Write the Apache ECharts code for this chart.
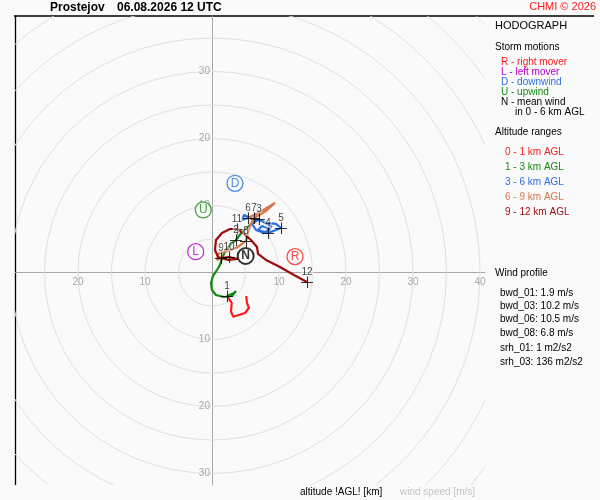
<!DOCTYPE html>
<html>
<head>
<meta charset="utf-8">
<title>Hodograph</title>
<script src="https://cdn.jsdelivr.net/npm/echarts@6/dist/echarts.min.js"></script>
<style>
  html, body { margin: 0; padding: 0; background: #fafafa; }
  #chart { width: 600px; height: 500px; }
</style>
</head>
<body>
<div id="chart"></div>
<script>
// --- data ---
const station = 'Prostejov';
const runTime = '06.08.2026 12 UTC';
const copyright = 'CHMI © 2026';

const ringSpeeds = [5, 10, 15, 20, 25, 30, 35, 40, 45, 50, 55, 60];
const xTickValues = [-20, -10, 10, 20, 30, 40];
const yTickValues = [-30, -20, -10, 10, 20, 30];

// wind vector (u, v) in m/s along the profile, per altitude range
const layer0to1 = [[5.12, -3.51], [5.22, -4.55], [5.52, -5.30], [4.93, -6.04], [3.18, -6.62],
  [2.84, -5.85], [2.94, -4.55], [2.24, -3.51]];
const layer1to3 = [[2.24, -3.51], [3.28, -3.06], [3.58, -2.76], [2.99, -3.51], [1.79, -3.66],
  [0.60, -3.36], [0.00, -2.61], [-0.15, -1.57], [0.15, -0.52], [0.75, 0.37], [1.19, 1.12],
  [1.49, 2.16], [2.09, 3.36], [2.84, 4.25], [3.58, 4.85], [4.48, 6.04], [5.52, 6.94],
  [6.27, 7.54], [7.01, 7.99]];
const layer3to6 = [[7.01, 7.99], [5.97, 7.24], [6.57, 6.34], [7.76, 5.90], [8.66, 6.49],
  [7.46, 6.94], [6.87, 6.34], [8.36, 5.90], [9.55, 6.34], [10.30, 6.64], [9.55, 7.24],
  [8.06, 7.39], [8.96, 6.79], [7.46, 7.69], [5.97, 7.99], [4.78, 8.58], [4.48, 7.84],
  [5.37, 8.13]];
const layer6to9 = [[5.37, 8.13], [6.57, 8.73], [7.91, 9.48], [9.40, 10.37], [8.06, 9.18],
  [6.27, 8.13], [5.67, 6.94], [5.07, 4.70], [3.88, 3.81], [2.39, 3.21], [1.04, 2.91],
  [0.75, 1.87], [1.34, 2.16]];
const layer9to12 = [[1.34, 2.16], [2.54, 2.31], [3.88, 2.01], [2.39, 1.87], [0.90, 2.30],
  [0.45, 3.36], [0.60, 4.85], [1.49, 5.90], [2.69, 6.49], [3.73, 6.49], [4.78, 5.75],
  [5.82, 4.85], [6.72, 3.81], [6.87, 2.76], [8.06, 1.87], [10.15, 0.82], [12.24, -0.37],
  [14.18, -1.42]];
const layerNames = ['0 - 1 km AGL', '1 - 3 km AGL', '3 - 6 km AGL', '6 - 9 km AGL', '9 - 12 km AGL'];
const layers = [layer0to1, layer1to3, layer3to6, layer6to9, layer9to12];

// height marks (km AGL)
const heightLabels = ['1', '2', '3', '4', '5', '6', '7', '8', '9', '10', '11', '12'];
const heightU = [2.24, 3.58, 7.01, 8.36, 10.30, 5.37, 6.27, 5.07, 1.34, 2.54, 3.73, 14.18];
const heightV = [-3.51, 4.85, 7.99, 5.90, 6.64, 8.13, 8.13, 4.70, 2.16, 2.31, 6.49, -1.42];

// storm motions
const stormLetters = ['R', 'L', 'D', 'U', 'N'];
const stormU = [12.39, -2.43, 3.43, -1.30, 5.03];
const stormV = [2.36, 3.10, 13.31, 9.33, 2.46];
const stormLegend = ['R - right mover', 'L - left mover', 'D - downwind', 'U - upwind', 'N - mean wind'];

const windProfileNames = ['bwd_01', 'bwd_03', 'bwd_06', 'bwd_08', 'srh_01', 'srh_03'];
const windProfileValues = ['1.9 m/s', '10.2 m/s', '10.5 m/s', '6.8 m/s', '1 m2/s2', '136 m2/s2'];

// --- styles ---
const FONT = '"Liberation Sans", Arial, sans-serif';
const layerColors = ['#ff1a1a', '#138a13', '#2a6ee6', '#d6784a', '#9e0a0a'];
const stormColors = ['#ff1a1a', '#b000c8', '#2a6ee6', '#138a13', '#000000'];
const ringColor = '#e0e0e0';
const axisColor = '#a8a8a8';

function text(x, y, str, fill, size, weight, align) {
  return {
    type: 'text', x: x, y: y, silent: true,
    style: {
      text: str, fill: fill || '#000', align: align || 'left', verticalAlign: 'middle',
      font: (weight || 'normal') + ' ' + (size || 10) + 'px ' + FONT
    }
  };
}

// header, borders and side panel
const graphics = [
  { type: 'line', silent: true, shape: { x1: 14, y1: 16, x2: 594, y2: 16 }, style: { stroke: '#000', lineWidth: 1.3 } },
  { type: 'line', silent: true, shape: { x1: 15.5, y1: 16, x2: 15.5, y2: 485 }, style: { stroke: '#000', lineWidth: 1.3 } },
  text(50, 8, station, '#000', 12, 'bold'),
  text(117, 8, runTime, '#000', 12, 'bold'),
  text(596, 7, copyright, '#ff1a1a', 11, 'normal', 'right'),
  text(495, 26, 'HODOGRAPH', '#000', 11),
  text(495, 47, 'Storm motions', '#000', 10),
  text(515, 112, 'in 0 - 6 km AGL', '#000', 10),
  text(495, 132, 'Altitude ranges', '#000', 10),
  text(495, 273, 'Wind profile', '#000', 10),
  text(300, 492, 'altitude !AGL! [km]', '#000', 10),
  text(400, 492, 'wind speed [m/s]', '#c4c4c4', 10)
];
stormLegend.forEach((s, i) => graphics.push(text(501, 62 + i * 10, s, stormColors[i], 10)));
layerNames.forEach((s, i) => graphics.push(text(505, 152 + i * 15, s, layerColors[i], 10)));
const profileY = [293, 306, 319.5, 333, 348.5, 362];
windProfileNames.forEach((s, i) =>
  graphics.push(text(500, profileY[i], s + ': ' + windProfileValues[i], '#000', 10)));

const chart = echarts.init(document.getElementById('chart'), null, { renderer: 'canvas' });

const series = [
  {
    // speed rings
    type: 'custom', clip: true, silent: true, z: 1,
    data: ringSpeeds.map(r => [r, 0]),
    renderItem: (params, api) => {
      const c = api.coord([0, 0]);
      const r = api.size([api.value(0), 0])[0];
      return { type: 'circle', shape: { cx: c[0], cy: c[1], r: r }, style: { fill: 'none', stroke: ringColor, lineWidth: 1 } };
    }
  },
  {
    type: 'custom', silent: true, z: 2,
    data: xTickValues.map(v => [v, 0]),
    renderItem: (params, api) => {
      const p = api.coord([api.value(0), 0]);
      return { type: 'text', x: p[0], y: p[1] + 10, style: { text: String(Math.abs(api.value(0))), fill: axisColor, font: '10px ' + FONT, align: 'center', verticalAlign: 'middle' } };
    }
  },
  {
    type: 'custom', silent: true, z: 2,
    data: yTickValues.map(v => [0, v]),
    renderItem: (params, api) => {
      const p = api.coord([0, api.value(1)]);
      return { type: 'text', x: p[0] - 2, y: p[1], style: { text: String(Math.abs(api.value(1))), fill: axisColor, font: '10px ' + FONT, align: 'right', verticalAlign: 'middle' } };
    }
  }
];

layers.forEach((d, i) => series.push({
  type: 'line', name: layerNames[i], data: d, z: 3,
  showSymbol: false, symbol: 'none', silent: true, clip: true,
  lineStyle: { color: layerColors[i], width: 2.2 }
}));

series.push({
  type: 'scatter', z: 4, silent: true,
  data: heightLabels.map((h, i) => [heightU[i], heightV[i], h]),
  symbol: 'path://M0,5.5H11V6.5H0Z M5.5,0H6.5V11H5.5Z',
  symbolSize: 12,
  itemStyle: { color: '#000' },
  label: {
    show: true, position: 'top', distance: -1,
    formatter: p => p.value[2],
    fontSize: 10, fontFamily: FONT, color: '#111',
    backgroundColor: 'rgba(250,250,250,0.55)', borderRadius: 6, padding: [0, 1]
  }
});

series.push({
  type: 'scatter', z: 5, silent: true,
  symbol: 'circle', symbolSize: 16,
  data: stormLetters.map((s, i) => ({
    value: [stormU[i], stormV[i]],
    name: s,
    itemStyle: { color: '#fafafa', borderColor: stormColors[i], borderWidth: s === 'N' ? 2 : 1.3 },
    label: { color: stormColors[i], fontWeight: s === 'N' ? 'bold' : 'normal' }
  })),
  label: { show: true, position: 'inside', formatter: p => p.name, fontSize: 12, fontFamily: FONT }
});

chart.setOption({
  animation: false,
  backgroundColor: '#fafafa',
  textStyle: { fontFamily: FONT },
  grid: { left: 15, top: 16, width: 470, height: 469 },
  xAxis: {
    type: 'value', min: -29.40, max: 40.75,
    axisLine: { show: true, onZero: true, lineStyle: { color: axisColor, width: 1 } },
    axisTick: { show: false }, axisLabel: { show: false }, splitLine: { show: false }
  },
  yAxis: {
    type: 'value', min: -31.72, max: 38.28,
    axisLine: { show: true, onZero: true, lineStyle: { color: axisColor, width: 1 } },
    axisTick: { show: false }, axisLabel: { show: false }, splitLine: { show: false }
  },
  graphic: graphics,
  series: series
});
</script>
</body>
</html>
